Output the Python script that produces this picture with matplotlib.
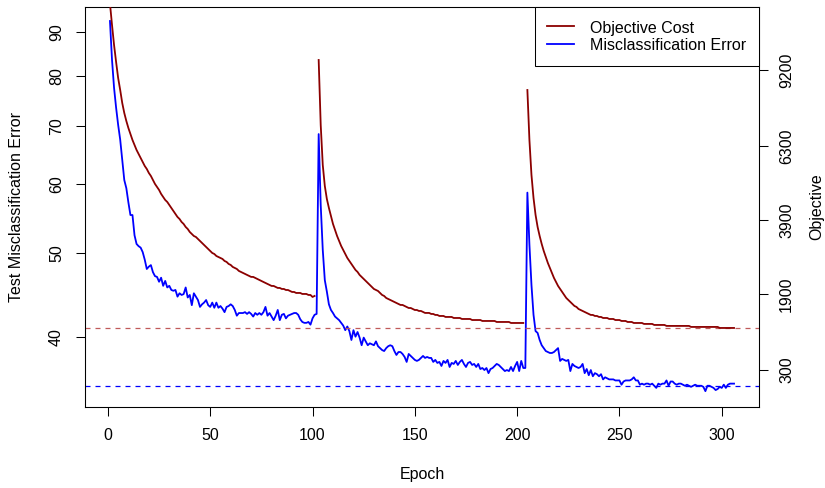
import numpy as np
import matplotlib
matplotlib.use("Agg")
import matplotlib.pyplot as plt
from matplotlib.ticker import NullLocator, FixedLocator, FixedFormatter
from matplotlib.lines import Line2D

plt.rcParams['font.family'] = ['Liberation Sans', 'DejaVu Sans']

epochs = np.arange(1, 307)

misclass_error = [
    92.7, 83.6, 77.6, 73.6, 70.3, 67.6, 64.0, 60.7, 59.4, 57.2,
    55.3, 55.3, 52.4, 51.2, 50.9, 50.7, 50.1, 49.1, 47.9, 48.2,
    48.4, 47.5, 47.0, 46.9, 46.3, 46.8, 45.8, 46.4, 45.6, 45.8,
    45.3, 45.2, 45.3, 44.5, 44.9, 44.7, 44.8, 45.6, 44.4, 44.7,
    43.5, 44.9, 44.5, 44.1, 43.3, 43.6, 43.8, 44.1, 43.5, 43.3,
    43.8, 43.2, 43.8, 43.2, 43.4, 43.1, 42.7, 43.3, 43.4, 43.6,
    43.4, 42.95, 42.3, 42.6, 42.6, 42.6, 42.7, 42.5, 42.7, 42.5,
    42.2, 42.6, 42.4, 42.6, 42.4, 42.7, 43.3, 42.3, 42.6, 42.2,
    41.8, 42.3, 42.95, 41.8, 42.4, 42.5, 42.0, 42.3, 42.4, 42.5,
    42.6, 42.6, 42.4, 41.9, 41.6, 41.5, 41.5, 41.6, 41.3, 42.0,
    42.4, 42.5, 68.6, 56.8, 50.4, 46.5, 45.1, 43.6, 42.95, 42.6,
    42.2, 42.0, 41.8, 41.5, 41.2, 40.7, 41.1, 40.6, 39.65, 40.7,
    40.0, 40.5, 39.9, 39.1, 39.9, 39.5, 39.1, 39.3, 39.2, 39.1,
    39.5, 39.0, 38.8, 38.6, 38.5, 38.8, 39.0, 39.1, 39.0, 38.5,
    38.1, 38.4, 38.4, 38.2, 37.9, 37.4, 38.2, 38.0, 37.8, 37.6,
    37.5, 37.6, 37.8, 38.0, 37.8, 37.9, 37.8, 37.8, 37.4, 37.6,
    37.3, 37.4, 37.0, 37.5, 37.3, 37.6, 36.9, 37.3, 37.2, 37.5,
    37.1, 37.4, 37.6, 37.2, 36.9, 37.3, 37.4, 37.1, 37.2, 36.9,
    37.2, 36.7, 36.8, 36.6, 36.8, 36.3, 36.7, 36.8, 37.0, 37.2,
    37.1, 36.9, 36.7, 36.5, 36.6, 36.5, 36.9, 36.5, 37.0, 37.4,
    36.5, 37.5, 36.8, 36.8, 58.7, 51.1, 45.9, 42.4, 40.6, 40.4,
    39.65, 39.1, 38.8, 38.5, 38.4, 38.3, 38.3, 38.4, 38.6, 38.8,
    37.5, 37.7, 37.6, 37.5, 37.6, 36.5, 37.2, 37.0, 36.9, 36.8,
    36.9, 37.2, 36.3, 36.7, 36.1, 36.6, 36.0, 36.3, 36.2, 36.0,
    36.2, 35.7, 35.9, 35.8, 35.7, 35.7, 35.7, 35.6, 35.6, 35.6,
    35.2, 35.5, 35.6, 35.6, 35.6, 35.7, 35.9, 35.6, 35.6, 35.2,
    35.3, 35.2, 35.3, 35.3, 35.2, 35.3, 35.1, 34.9, 35.3, 35.2,
    35.3, 35.3, 35.6, 35.1, 35.5, 35.5, 35.3, 35.2, 35.3, 35.3,
    35.2, 35.1, 35.2, 35.1, 35.0, 35.1, 35.2, 35.1, 35.1, 35.1,
    35.0, 34.6, 35.1, 35.1, 35.0, 34.9, 34.7, 34.8, 35.0, 34.9,
    35.2, 34.9, 35.2, 35.3, 35.3, 35.3,
]

nan = float('nan')
objective_cost = [
    12100, 11126, 10251, 9532, 8874, 8394, 7887, 7505, 7205, 6947,
    6730, 6513, 6336, 6159, 6020, 5882, 5744, 5609, 5508, 5375,
    5276, 5144, 5015, 4918, 4821, 4695, 4600, 4505, 4443, 4351,
    4259, 4167, 4077, 3986, 3926, 3837, 3779, 3691, 3632, 3546,
    3489, 3431, 3403, 3346, 3289, 3234, 3178, 3122, 3067, 3012,
    2958, 2931, 2877, 2850, 2824, 2797, 2744, 2718, 2665, 2639,
    2587, 2560, 2534, 2483, 2457, 2432, 2406, 2381, 2355, 2330,
    2330, 2304, 2279, 2253, 2228, 2203, 2179, 2154, 2129, 2104,
    2104, 2079, 2055, 2055, 2030, 2030, 2005, 2005, 1981, 1957,
    1957, 1933, 1933, 1933, 1909, 1909, 1909, 1885, 1885, 1837,
    1861, nan, 9615, 7057, 5643, 4950, 4537, 4259, 4016, 3779,
    3603, 3431, 3289, 3150, 3039, 2931, 2824, 2744, 2665, 2587,
    2508, 2457, 2381, 2330, 2279, 2228, 2179, 2129, 2079, 2030,
    2005, 1981, 1933, 1885, 1861, 1813, 1789, 1765, 1742, 1719,
    1695, 1672, 1649, 1649, 1626, 1603, 1579, 1579, 1556, 1533,
    1533, 1511, 1511, 1488, 1466, 1466, 1466, 1443, 1443, 1421,
    1421, 1398, 1398, 1398, 1376, 1376, 1376, 1376, 1353, 1353,
    1353, 1353, 1331, 1331, 1331, 1331, 1331, 1308, 1308, 1308,
    1308, 1308, 1287, 1287, 1287, 1287, 1287, 1287, 1287, 1265,
    1265, 1265, 1265, 1265, 1265, 1265, 1243, 1243, 1243, 1243,
    1243, 1243, 1243, nan, 8394, 6513, 5309, 4568, 4047, 3691,
    3431, 3206, 3012, 2850, 2692, 2560, 2432, 2304, 2203, 2104,
    2030, 1957, 1885, 1813, 1765, 1719, 1672, 1626, 1603, 1556,
    1533, 1511, 1488, 1466, 1443, 1421, 1421, 1398, 1398, 1376,
    1376, 1353, 1353, 1353, 1331, 1331, 1331, 1308, 1308, 1308,
    1287, 1287, 1287, 1265, 1265, 1265, 1243, 1243, 1243, 1243,
    1243, 1222, 1222, 1222, 1222, 1222, 1200, 1200, 1200, 1200,
    1200, 1200, 1179, 1179, 1179, 1179, 1179, 1179, 1179, 1179,
    1179, 1179, 1179, 1179, 1157, 1157, 1157, 1157, 1157, 1157,
    1157, 1157, 1157, 1157, 1157, 1157, 1157, 1157, 1135, 1135,
    1135, 1135, 1135, 1135, 1135, 1135,
]

error_reference = 35.08
objective_reference = 1140

x_ticks = [0, 50, 100, 150, 200, 250, 300]
left_ticks = [40, 50, 60, 70, 80, 90]
right_ticks = [300, 1900, 3900, 6300, 9200]

RED = '#8B0000'
BLUE = '#0000FF'
FS = 11.5
LW = 1.3

fig = plt.figure(figsize=(8.25, 4.88), dpi=100)
L, R, T, B = 85, 759, 6.7, 407
ax = fig.add_axes([L / 825, 1 - B / 488, (R - L) / 825, (B - T) / 488])

# left axis: misclassification error (log scale)
ax.set_yscale('log')
ax.plot(epochs, misclass_error, color=BLUE, lw=LW, zorder=3)
ax.axhline(error_reference, color=BLUE, lw=0.9, ls=(0, (4, 4)), zorder=2)
ax.set_xlim(-11.2, 318.2)
ax.set_ylim(33.17, 96.3)
ax.yaxis.set_major_locator(FixedLocator(left_ticks))
ax.yaxis.set_major_formatter(FixedFormatter([str(t) for t in left_ticks]))
ax.yaxis.set_minor_locator(NullLocator())
ax.set_xticks(x_ticks)
ax.set_xticklabels([str(t) for t in x_ticks])

ax.tick_params(axis='both', which='major', direction='out', length=6.5,
               width=0.75, labelsize=FS, color='black')
ax.tick_params(axis='x', pad=8.6)
ax.tick_params(axis='y', pad=8.6, labelrotation=90)
for lab in ax.get_yticklabels():
    lab.set_va('center')

ax.set_xlabel('Epoch', fontsize=FS, va='center')
ax.xaxis.set_label_coords(0.5, (B - 475) / (B - T))
ax.set_ylabel('Test Misclassification Error', fontsize=FS, va='center')
ax.yaxis.set_label_coords((17 - L) / (R - L), 0.5)

# right axis: objective
def fwd(x):
    return np.sqrt(np.maximum(np.asarray(x, dtype=float) + 1900.0, 0.0))

def inv(s):
    return np.asarray(s, dtype=float) ** 2 - 1900.0

ax2 = ax.twinx()
ax2.set_yscale('function', functions=(fwd, inv))
ax2.plot(epochs, objective_cost, color=RED, lw=LW, zorder=3)
ax2.axhline(objective_reference, color='#C05A5A', lw=0.9, ls=(0, (4, 4)), zorder=2)
ax2.set_ylim(-324.7, 11951)
ax2.yaxis.set_major_locator(FixedLocator(right_ticks))
ax2.yaxis.set_major_formatter(FixedFormatter([str(t) for t in right_ticks]))
ax2.yaxis.set_minor_locator(NullLocator())
ax2.tick_params(axis='y', which='major', direction='out', length=6.5,
                width=0.75, labelsize=FS, pad=7.9, labelrotation=90)
for lab in ax2.get_yticklabels():
    lab.set_va('center')
ax2.set_ylabel('Objective', fontsize=FS, va='center', rotation=90)
ax2.yaxis.set_label_coords((817 - L) / (R - L), 0.5)

for a in (ax, ax2):
    for sp in a.spines.values():
        sp.set_linewidth(0.75)
        sp.set_color('black')

handles = [Line2D([], [], color=RED, lw=LW), Line2D([], [], color=BLUE, lw=LW)]
leg = ax2.legend(handles, ['Objective Cost', 'Misclassification Error'],
                 loc='upper right', borderaxespad=0, fancybox=False,
                 edgecolor='black', framealpha=1, fontsize=FS,
                 handlelength=1.7, handleheight=1.2, handletextpad=1.0,
                 borderpad=0.79, labelspacing=0.06)
leg.get_frame().set_linewidth(0.75)
leg.set_zorder(10)

fig.savefig('out.png', dpi=100)
